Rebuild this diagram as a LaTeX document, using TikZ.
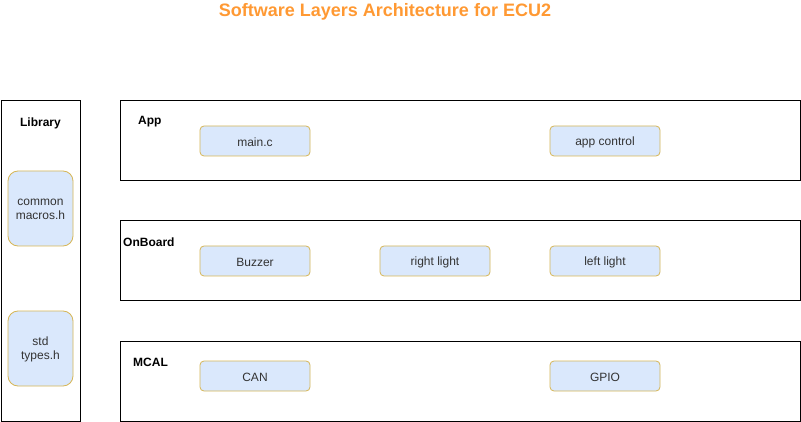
\documentclass[tikz,border=0pt]{standalone}
\usepackage{fontspec}
\setmainfont{Liberation Sans}
\definecolor{boxfill}{HTML}{DAE8FC}
\definecolor{boxline}{HTML}{D6B656}
\definecolor{titlec}{HTML}{FF9933}
\definecolor{txt}{HTML}{333333}
\begin{document}
\begin{tikzpicture}[x=1pt,y=-1pt,
  layer/.style={draw=black, line width=1pt, fill=white},
  comp/.style={draw=boxline, fill=boxfill, rounded corners=4pt, line width=0.8pt},
  libcomp/.style={draw=boxline, fill=boxfill, rounded corners=10pt, line width=0.8pt},
  ctext/.style={font=\fontsize{12}{14}\selectfont, text=txt, align=center},
  lbl/.style={font=\bfseries\fontsize{12}{14}\selectfont, text=black, inner sep=0pt}]
\useasboundingbox (0,0) rectangle (801,422);
% title
\node[font=\bfseries\fontsize{18}{21}\selectfont, text=titlec] (title) at (385,12) {Software Layers Architecture for ECU2};
% library
\draw[layer] (1,101) rectangle (80,421);
\node[lbl] (lib) at (40.5,123) {Library};
\draw[libcomp] (8,171) rectangle (73,246);
\node[ctext] (cm) at (40.5,209.5) {common\\macros.h};
\draw[libcomp] (8,311) rectangle (73,386);
\node[ctext] (st) at (40.5,349.5) {std\\types.h};
% layers
\draw[layer] (120,101) rectangle (800,181);
\draw[layer] (120,221) rectangle (800,301);
\draw[layer] (120,341) rectangle (800,421);
\node[lbl, anchor=west] (app) at (138,122) {App};
\node[lbl, anchor=west] (onb) at (123,242) {OnBoard};
\node[lbl, anchor=west] (mcal) at (133,362) {MCAL};
% components
\foreach \nm/\x/\y/\t in {mainc/200/126/main.c, appc/550/126/app control, buz/200/246/Buzzer, rl/380/246/right light, ll/550/246/left light, can/200/361/CAN, gpio/550/361/GPIO}{
  \draw[comp] (\x,\y) rectangle ++(110,30);
  \node[ctext] (\nm) at (\x+55,\y+16) {\t};
}
\end{tikzpicture}
\end{document}
